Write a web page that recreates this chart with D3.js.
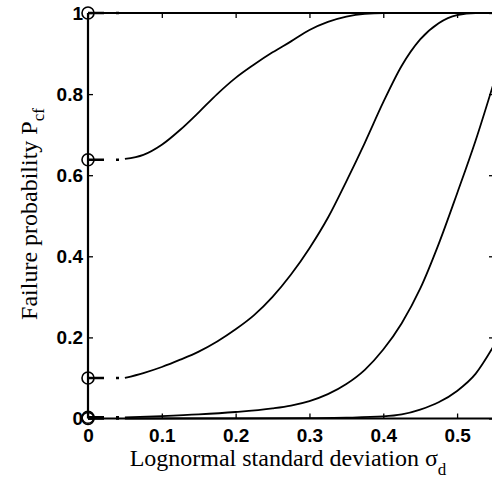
<!DOCTYPE html>
<html><head><meta charset="utf-8">
<script src="https://cdn.jsdelivr.net/npm/d3@7/dist/d3.min.js"></script>
<style>body{margin:0;background:#fff;} svg{display:block;}</style>
</head><body>
<svg id="c" width="492" height="482"></svg>
<script>
// ---- data ----
const xTicks = [0, 0.1, 0.2, 0.3, 0.4, 0.5];
const yTicks = [0, 0.2, 0.4, 0.6, 0.8, 1];
const xTickLabels = ["0", "0.1", "0.2", "0.3", "0.4", "0.5"];
const yTickLabels = ["0", "0.2", "0.4", "0.6", "0.8", "1"];
const startValues = [1, 0.638, 0.1, 0.003, 0];
const curveTop = [[0.05,1],[0.55,1]];
const curve1 = [[0.05,0.64],[0.075,0.65],[0.1,0.675],[0.125,0.712],[0.15,0.755],[0.175,0.8],[0.2,0.84],[0.225,0.873],[0.25,0.903],[0.275,0.93],[0.3,0.958],[0.325,0.978],[0.35,0.991],[0.375,0.998],[0.4,1],[0.55,1]];
const curve2 = [[0.05,0.1],[0.075,0.112],[0.1,0.127],[0.125,0.145],[0.15,0.165],[0.175,0.19],[0.2,0.22],[0.225,0.255],[0.25,0.3],[0.275,0.355],[0.3,0.42],[0.325,0.495],[0.35,0.585],[0.375,0.68],[0.4,0.78],[0.425,0.87],[0.45,0.935],[0.475,0.975],[0.5,0.995],[0.525,1],[0.55,1]];
const curve3 = [[0.05,0.003],[0.1,0.006],[0.15,0.01],[0.2,0.016],[0.25,0.025],[0.275,0.032],[0.3,0.043],[0.325,0.06],[0.35,0.085],[0.375,0.12],[0.4,0.17],[0.425,0.235],[0.45,0.32],[0.475,0.43],[0.5,0.555],[0.525,0.685],[0.55,0.83]];
const curve4 = [[0.05,0],[0.2,0.0003],[0.3,0.001],[0.35,0.002],[0.4,0.005],[0.425,0.01],[0.45,0.022],[0.475,0.04],[0.5,0.068],[0.525,0.11],[0.55,0.18]];
const curves = [curveTop, curve1, curve2, curve3, curve4];

// ---- layout ----
const L = 88, R = 494, T = 13, B = 418.5;
const x = d3.scaleLinear().domain([0, 0.55]).range([L, R]);
const y = d3.scaleLinear().domain([0, 1]).range([B, T]);
const svg = d3.select("#c");

svg.append("defs").append("clipPath").attr("id","clip")
  .append("rect").attr("x", L).attr("y", T-2).attr("width", R-L).attr("height", B-T+4);

const line = d3.line().x(d=>x(d[0])).y(d=>y(d[1])).curve(d3.curveMonotoneX);
const g = svg.append("g").attr("clip-path","url(#clip)");
g.selectAll("path.curve").data(curves).enter().append("path")
  .attr("class","curve").attr("d", line)
  .attr("fill","none").attr("stroke","#000").attr("stroke-width",1.8);

// dash-dot lead-in segments from sigma=0 to 0.05
svg.selectAll("line.dd").data(startValues).enter().append("line")
  .attr("x1", x(0)).attr("x2", x(0.05))
  .attr("y1", d=>y(d)).attr("y2", d=>y(d))
  .attr("stroke","#000").attr("stroke-width",2.6)
  .attr("stroke-dasharray","16,12,3,6");

// axes frame
const frame = svg.append("g");
frame.append("line").attr("x1",L).attr("x2",L).attr("y1",T).attr("y2",B).attr("stroke","#000").attr("stroke-width",2.2);
frame.append("line").attr("x1",R).attr("x2",R).attr("y1",T).attr("y2",B).attr("stroke","#000").attr("stroke-width",2.2);
frame.append("line").attr("x1",L).attr("x2",R).attr("y1",T).attr("y2",T).attr("stroke","#000").attr("stroke-width",2.2);
frame.append("line").attr("x1",L).attr("x2",R).attr("y1",B).attr("y2",B).attr("stroke","#000").attr("stroke-width",2.2);

// axes (inward ticks)
const xb = d3.axisBottom(x).tickValues(xTicks).tickSize(-5).tickFormat((d,i)=>xTickLabels[i]).tickPadding(10);
const xt = d3.axisTop(x).tickValues(xTicks).tickSize(-5).tickFormat("");
const yl = d3.axisLeft(y).tickValues(yTicks).tickSize(-5).tickFormat((d,i)=>yTickLabels[i]).tickPadding(5);
const yr = d3.axisRight(y).tickValues(yTicks).tickSize(-5).tickFormat("");
function style(sel){
  sel.select(".domain").remove();
  sel.selectAll(".tick line").attr("stroke","#000").attr("stroke-width",1.3);
  sel.selectAll(".tick text").attr("fill","#000")
    .style("font-family","'Liberation Sans', Arial, sans-serif")
    .style("font-weight","bold").style("font-size","19px");
}
svg.append("g").attr("transform",`translate(0,${B})`).call(xb).call(style);
svg.append("g").attr("transform",`translate(0,${T})`).call(xt).call(style);
svg.append("g").attr("transform",`translate(${L},0)`).call(yl).call(style);
svg.append("g").attr("transform",`translate(${R},0)`).call(yr).call(style);

// start circles
svg.selectAll("circle.s").data(startValues).enter().append("circle")
  .attr("cx", x(0)).attr("cy", d=>y(d)).attr("r", 6)
  .attr("fill","none").attr("stroke","#000").attr("stroke-width",1.6);

// axis titles
const xt2 = svg.append("text").attr("x", 288).attr("y", 466)
  .attr("text-anchor","middle")
  .style("font-family","'Liberation Serif', 'Times New Roman', serif").style("font-size","24px");
xt2.append("tspan").text("Lognormal standard deviation σ");
xt2.append("tspan").attr("dy", 9).style("font-size","17px").text("d");

const yt = svg.append("text").attr("transform","translate(37,214) rotate(-90)")
  .attr("text-anchor","middle")
  .style("font-family","'Liberation Serif', 'Times New Roman', serif").style("font-size","24px");
yt.append("tspan").text("Failure probability P");
yt.append("tspan").attr("dy", 7).style("font-size","17px").text("cf");
</script>
</body></html>
